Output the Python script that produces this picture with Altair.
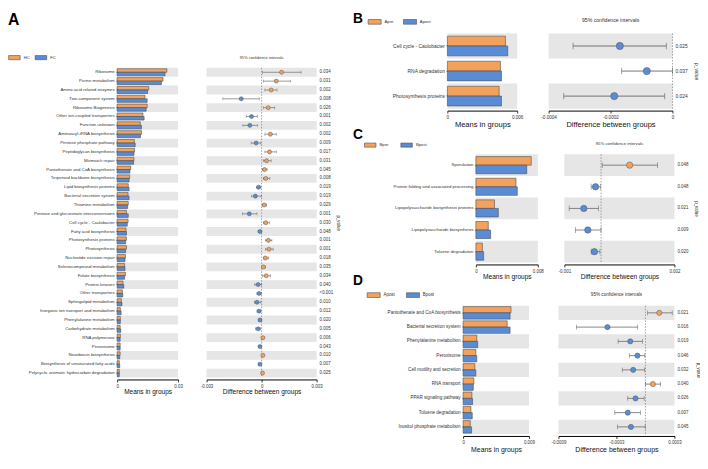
import altair as alt
import pandas as pd

FONT = "Liberation Sans"
ORANGE = "#F2A25C"
BLUE = "#5A8CD6"
BAND = "#E6E6E6"
EDGE = "#4D4D4D"
TXT = "#333333"

# ---------------- Panel A ----------------
A_paths = ["Ribosome", "Purine metabolism", "Amino acid related enzymes", "Two-component system",
           "Ribosome Biogenesis", "Other ion-coupled transporters", "Function unknown",
           "Aminoacyl-tRNA biosynthesis", "Pentose phosphate pathway", "Peptidoglycan biosynthesis",
           "Mismatch repair", "Pantothenate and CoA biosynthesis", "Terpenoid backbone biosynthesis",
           "Lipid biosynthesis proteins", "Bacterial secretion system", "Thiamine metabolism",
           "Pentose and glucuronate interconversions", "Cell cycle - Caulobacter", "Fatty acid biosynthesis",
           "Photosynthesis proteins", "Photosynthesis", "Nucleotide excision repair",
           "Selenocompound metabolism", "Folate biosynthesis", "Protein kinases", "Other transporters",
           "Sphingolipid metabolism", "Inorganic ion transport and metabolism", "Phenylalanine metabolism",
           "Carbohydrate metabolism", "RNA polymerase", "Peroxisome", "Novobiocin biosynthesis",
           "Biosynthesis of unsaturated fatty acids", "Polycyclic aromatic hydrocarbon degradation"]
A_groups = ["HC", "FC"]
A_HC = [0.0245, 0.0226, 0.0156, 0.0137, 0.0148, 0.0127, 0.0114, 0.0120, 0.0085, 0.0086, 0.0083, 0.0067,
        0.0062, 0.0055, 0.0054, 0.0055, 0.0046, 0.0054, 0.0044, 0.0046, 0.0046, 0.0041, 0.0037, 0.0041,
        0.0029, 0.0026, 0.0021, 0.0016, 0.0016, 0.0015, 0.0016, 0.0015, 0.0015, 0.0011, 0.0011]
A_FC = [0.0236, 0.0218, 0.0150, 0.0148, 0.0143, 0.0133, 0.0120, 0.0115, 0.0089, 0.0083, 0.0081, 0.0063,
        0.0059, 0.0059, 0.0059, 0.0052, 0.0055, 0.0050, 0.0046, 0.0042, 0.0042, 0.0039, 0.0039, 0.0037,
        0.0033, 0.0028, 0.0024, 0.0020, 0.0016, 0.0018, 0.0015, 0.0015, 0.0013, 0.0013, 0.0011]
A_diff = [0.00109, 0.00080, 0.00052, -0.00111, 0.00036, -0.00055, -0.00064, 0.00048, -0.00030, 0.00043,
          0.00027, 0.00016, 0.00023, -0.00016, -0.00034, 0.00014, -0.00067, 0.00023, -0.00009, 0.00037,
          0.00040, 0.00021, 0.00010, 0.00025, -0.00019, -0.00014, -0.00025, -0.00014, -0.00009, -0.00019,
          0.00007, -0.00009, 0.00007, -0.00009, 0.00005]
A_lo = [0.00005, 0.00009, 0.00018, -0.00211, 0.00009, -0.00084, -0.00102, 0.00018, -0.00057, 0.00018,
        0.00009, 0.00004, 0.00009, -0.00027, -0.00054, 0.00005, -0.00104, 0.00010, -0.00019, 0.00021,
        0.00021, 0.00010, 0.00002, 0.00005, -0.00037, -0.00025, -0.00039, -0.00025, -0.00018, -0.00032,
        0.00002, -0.00014, 0.00002, -0.00014, 0.00002]
A_hi = [0.00215, 0.00157, 0.00084, -0.00013, 0.00072, -0.00023, -0.00023, 0.00080, -0.00004, 0.00080,
        0.00052, 0.00030, 0.00045, -0.00004, -0.00002, 0.00027, -0.00025, 0.00042, -0.00001, 0.00056,
        0.00063, 0.00039, 0.00021, 0.00049, -0.00001, -0.00002, -0.00004, -0.00004, -0.00001, -0.00005,
        0.00012, -0.00002, 0.00012, -0.00002, 0.00010]
A_p = ["0.034", "0.031", "0.002", "0.008", "0.026", "0.001", "0.002", "0.002", "0.009", "0.017", "0.031",
       "0.045", "0.008", "0.019", "0.019", "0.029", "0.001", "0.030", "0.048", "0.001", "0.001", "0.018",
       "0.035", "0.034", "0.040", "<0.001", "0.010", "0.012", "0.020", "0.005", "0.006", "0.043", "0.010",
       "0.007", "0.025"]
A_bar_ticks = [0, 0.03]
A_diff_ticks = [-0.003, -0.0015, 0, 0.0015, 0.003]

# ---------------- Panel B ----------------
B_paths = ["Cell cycle - Caulobacter", "RNA degradation", "Photosynthesis proteins"]
B_groups = ["Apre", "Apost"]
B_pre = [0.00499, 0.00456, 0.00445]
B_post = [0.00519, 0.00465, 0.00465]
B_diff = [-0.000170, -0.000083, -0.000188]
B_lo = [-0.000321, -0.000164, -0.000351]
B_hi = [-0.000020, 0.0, -0.000025]
B_p = ["0.025", "0.037", "0.024"]
B_bar_ticks = [0, 0.006]
B_diff_ticks = [-0.0004, -0.0003, -0.0002, -0.0001, 0]

# ---------------- Panel C ----------------
C_paths = ["Sporulation", "Protein folding and associated processing",
           "Lipopolysaccharide biosynthesis proteins", "Lipopolysaccharide biosynthesis", "Toluene degradation"]
C_groups = ["Bpre", "Bpost"]
C_pre = [0.00715, 0.00518, 0.0024, 0.0016, 0.00084]
C_post = [0.00657, 0.00535, 0.0029, 0.0019, 0.0010]
C_diff = [0.00078, -0.00015, -0.00047, -0.00036, -0.00018]
C_lo = [0.00003, -0.00027, -0.00087, -0.00070, -0.00027]
C_hi = [0.00154, -0.00002, -0.00007, 0.0, -0.00003]
C_p = ["0.048", "0.048", "0.021", "0.009", "0.020"]
C_bar_ticks = [0, 0.008]
C_diff_ticks = [-0.001, 0, 0.001, 0.002]

# ---------------- Panel D ----------------
D_paths = ["Pantothenate and CoA biosynthesis", "Bacterial secretion system", "Phenylalanine metabolism",
           "Peroxisome", "Cell motility and secretion", "RNA transport", "PPAR signaling pathway",
           "Toluene degradation", "Inositol phosphate metabolism"]
D_groups = ["Apost", "Bpost"]
D_apost = [0.00655, 0.00602, 0.00187, 0.00174, 0.0016, 0.00147, 0.0012, 0.00107, 0.00098]
D_bpost = [0.00642, 0.00642, 0.0020, 0.00187, 0.00174, 0.00139, 0.00129, 0.00125, 0.00116]
D_diff = [0.000143, -0.000393, -0.000157, -0.000083, -0.000127, 0.000077, -0.000103, -0.000183, -0.00015]
D_lo = [0.000023, -0.000713, -0.000283, -0.000167, -0.00024, 0.0, -0.000183, -0.000317, -0.00029]
D_hi = [0.000277, -0.00008, -0.00003, -0.000007, -0.000007, 0.000157, -0.000013, -0.000053, -0.000003]
D_p = ["0.021", "0.016", "0.019", "0.046", "0.032", "0.040", "0.026", "0.007", "0.045"]
D_bar_ticks = [0, 0.009]
D_diff_ticks = [-0.0009, -0.0006, -0.0003, 0, 0.0003]

RES = dict(color="independent", x="independent", y="independent", yOffset="independent")


def x_axis(values, title, lf, tf):
    return alt.Axis(values=values, labelExpr="'' + datum.value", labelFontSize=lf, labelFlush=False,
                    labelPadding=1.5, labelColor=TXT, title=title, titleFontSize=tf,
                    titleFontWeight="normal", titleColor="#111", titlePadding=1, domainColor="#000",
                    domainWidth=1, tickColor="#000", tickSize=2.5, tickWidth=0.8, offset=2, grid=False)


def panel(letter, paths, groups, v1, v2, diff, lo, hi, pv, bar_ticks, diff_ticks, c):
    n = len(paths)
    bars_df = pd.DataFrame({"pathway": paths * 2, "group": [groups[0]] * n + [groups[1]] * n,
                            "value": list(v1) + list(v2)})
    dots_df = pd.DataFrame({"pathway": paths, "diff": diff, "lo": lo, "hi": hi, "p": pv,
                            "higher": [groups[0] if d > 0 else groups[1] for d in diff]})
    band_df = dots_df.iloc[::2]
    H = c["step"] * n
    ysc = alt.Scale(domain=paths, paddingInner=0, paddingOuter=0)
    csc = alt.Scale(domain=groups, range=[ORANGE, BLUE])
    ylab = alt.Y("pathway:N", scale=ysc, title=None,
                 axis=alt.Axis(labelFontSize=c["yl"], ticks=True, tickSize=1.5, tickWidth=0.6,
                               tickColor="#444", domain=False, labelPadding=1.5,
                               labelColor=TXT, labelLimit=300))

    bands_l = alt.Chart(band_df).mark_rect(color=BAND).encode(
        y=ylab, x=alt.value(0), x2=alt.value(c["bw"]))
    bars = alt.Chart(bars_df).mark_bar(stroke=EDGE, strokeWidth=0.6).encode(
        y=ylab,
        yOffset=alt.YOffset("group:N", scale=alt.Scale(domain=groups, paddingInner=0, paddingOuter=c["po"])),
        x=alt.X("value:Q", scale=alt.Scale(domain=[0, bar_ticks[-1]], nice=False, zero=True),
                axis=x_axis(bar_ticks, "Means in groups", c["xl"], c["mt"])),
        color=alt.Color("group:N", scale=csc, legend=alt.Legend(
            orient="none", legendX=c["lx"], legendY=c["ly"], direction="horizontal", title=None,
            symbolType="M-1,-0.36H1V0.36H-1Z", symbolSize=c["ss"], symbolStrokeColor=EDGE,
            symbolStrokeWidth=0.6, symbolOpacity=1, labelFontSize=c["lg"], labelOffset=3,
            columnPadding=c["cp"], labelColor=TXT)))
    left = alt.layer(bands_l, bars).properties(
        width=c["bw"], height=H,
        title=alt.TitleParams(letter, anchor="start", fontSize=c["lt"], fontWeight="bold", color="#000",
                              offset=c["lto"], dx=c["ldx"]))

    ysc_r = alt.Y("pathway:N", scale=ysc, title="p_value",
                  axis=alt.Axis(orient="right", labels=False, ticks=False, domain=False, title="p_value",
                                titleAngle=90, titleFontSize=c["pl"], titleFontWeight="normal",
                                titleColor=TXT, titlePadding=c["ptp"]))
    dsc = alt.Scale(domain=[diff_ticks[0], diff_ticks[-1]], nice=False, zero=False)
    bands_r = alt.Chart(band_df).mark_rect(color=BAND).encode(
        y=ysc_r, x=alt.value(0), x2=alt.value(c["dw"]))
    zero = alt.Chart(pd.DataFrame({"z": [0.0]})).mark_rule(
        color="#777", strokeDash=[1.5, 1.5], strokeWidth=0.7).encode(x=alt.X("z:Q", scale=dsc))
    ci = alt.Chart(dots_df).mark_rule(color="#555", strokeWidth=c["cw"]).encode(
        y=alt.Y("pathway:N", scale=ysc),
        x=alt.X("lo:Q", scale=dsc, axis=x_axis(diff_ticks, "Difference between groups", c["xl"], c["dt"])),
        x2="hi:Q")
    cap_lo = alt.Chart(dots_df).mark_tick(orient="vertical", size=c["cap"], thickness=c["cw"],
                                          color="#555").encode(y=alt.Y("pathway:N", scale=ysc), x="lo:Q")
    cap_hi = alt.Chart(dots_df).mark_tick(orient="vertical", size=c["cap"], thickness=c["cw"],
                                          color="#555").encode(y=alt.Y("pathway:N", scale=ysc), x="hi:Q")
    pts = alt.Chart(dots_df).mark_circle(size=c["ps"], opacity=1, stroke="#555", strokeWidth=0.5).encode(
        y=alt.Y("pathway:N", scale=ysc), x="diff:Q",
        color=alt.Color("higher:N", scale=csc, legend=None))
    ptxt = alt.Chart(dots_df).mark_text(align="left", baseline="middle", fontSize=c["pf"], dx=3,
                                        color=TXT).encode(
        y=alt.Y("pathway:N", scale=ysc), x=alt.value(c["dw"]), text="p:N")
    right = alt.layer(bands_r, zero, ci, cap_lo, cap_hi, pts, ptxt).properties(
        width=c["dw"], height=H,
        title=alt.TitleParams("95% confidence intervals", fontSize=c["ct"], fontWeight="normal",
                              color=TXT, offset=c["cto"], frame="group"))
    return alt.hconcat(left, right, spacing=c["sp"]).resolve_scale(**RES).resolve_legend(color="independent")


def spacer():
    # invisible 1x1 cell used only to anchor the grid layout
    return alt.Chart(pd.DataFrame({"s": [0]})).mark_rule(opacity=0).encode(
        x=alt.value(0), y=alt.value(0), y2=alt.value(1)).properties(width=1, height=1)


def grid(*charts, columns, spacing):
    return alt.concat(*charts, columns=columns, spacing=spacing, align="none").resolve_scale(
        **RES).resolve_legend(color="independent")


cfgA = dict(step=9, bw=62, dw=112, po=0.25, yl=4.4, xl=4.5, mt=6.6, dt=6.7, lx=-111, ly=-17, ss=137,
            lg=4.3, cp=3, lt=16, lto=23.5, ldx=0, pl=4.5, ptp=19, cw=0.6, cap=3, ps=17, pf=4.5,
            ct=4, cto=8, sp=17)
cfgB = dict(step=25.5, bw=71, dw=126, po=0.275, yl=5, xl=4.7, mt=7.7, dt=7.6, lx=-81, ly=-19, ss=177,
            lg=4.3, cp=8, lt=14, lto=-11.5, ldx=-15, pl=5, ptp=21, cw=0.8, cap=6.5, ps=54, pf=5,
            ct=5.25, cto=10, sp=18)
cfgC = dict(step=22, bw=63, dw=112, po=0.26, yl=4.4, xl=4.5, mt=6.7, dt=6.7, lx=-114, ly=-16, ss=137,
            lg=4.3, cp=10, lt=14, lto=-3, ldx=-11, pl=4.5, ptp=19, cw=0.7, cap=6, ps=42, pf=4.5,
            ct=4.35, cto=8, sp=14)
cfgD = dict(step=14.5, bw=67, dw=118, po=0.14, yl=4.7, xl=4.5, mt=7, dt=7.1, lx=-98, ly=-18, ss=177,
            lg=4.5, cp=10, lt=14, lto=0, ldx=-14, pl=4.5, ptp=21, cw=0.7, cap=4.7, ps=28, pf=4.5,
            ct=4.7, cto=9, sp=16)

pA = panel("A", A_paths, A_groups, A_HC, A_FC, A_diff, A_lo, A_hi, A_p, A_bar_ticks, A_diff_ticks, cfgA)
pB = panel("B", B_paths, B_groups, B_pre, B_post, B_diff, B_lo, B_hi, B_p, B_bar_ticks, B_diff_ticks, cfgB)
pC = panel("C", C_paths, C_groups, C_pre, C_post, C_diff, C_lo, C_hi, C_p, C_bar_ticks, C_diff_ticks, cfgC)
pD = panel("D", D_paths, D_groups, D_apost, D_bpost, D_diff, D_lo, D_hi, D_p, D_bar_ticks, D_diff_ticks, cfgD)

# left-align panels B, C, D by their outer edge
wB = grid(spacer(), pB, columns=2, spacing=-1)
wC = grid(spacer(), pC, columns=2, spacing=-1)
wD = grid(spacer(), pD, columns=2, spacing=-1)
cd = grid(wC, wD, columns=1, spacing=-7)
rcol = grid(wB, cd, columns=1, spacing=0)
# panel A sits lower than panel B's plot
colA = grid(spacer(), pA, columns=1, spacing=-23)
chart = grid(colA, rcol, columns=2, spacing=13)

chart = chart.properties(padding=0).configure(font=FONT).configure_view(stroke=None)
chart.save("out.html", embed_options={"renderer": "svg", "actions": False})
